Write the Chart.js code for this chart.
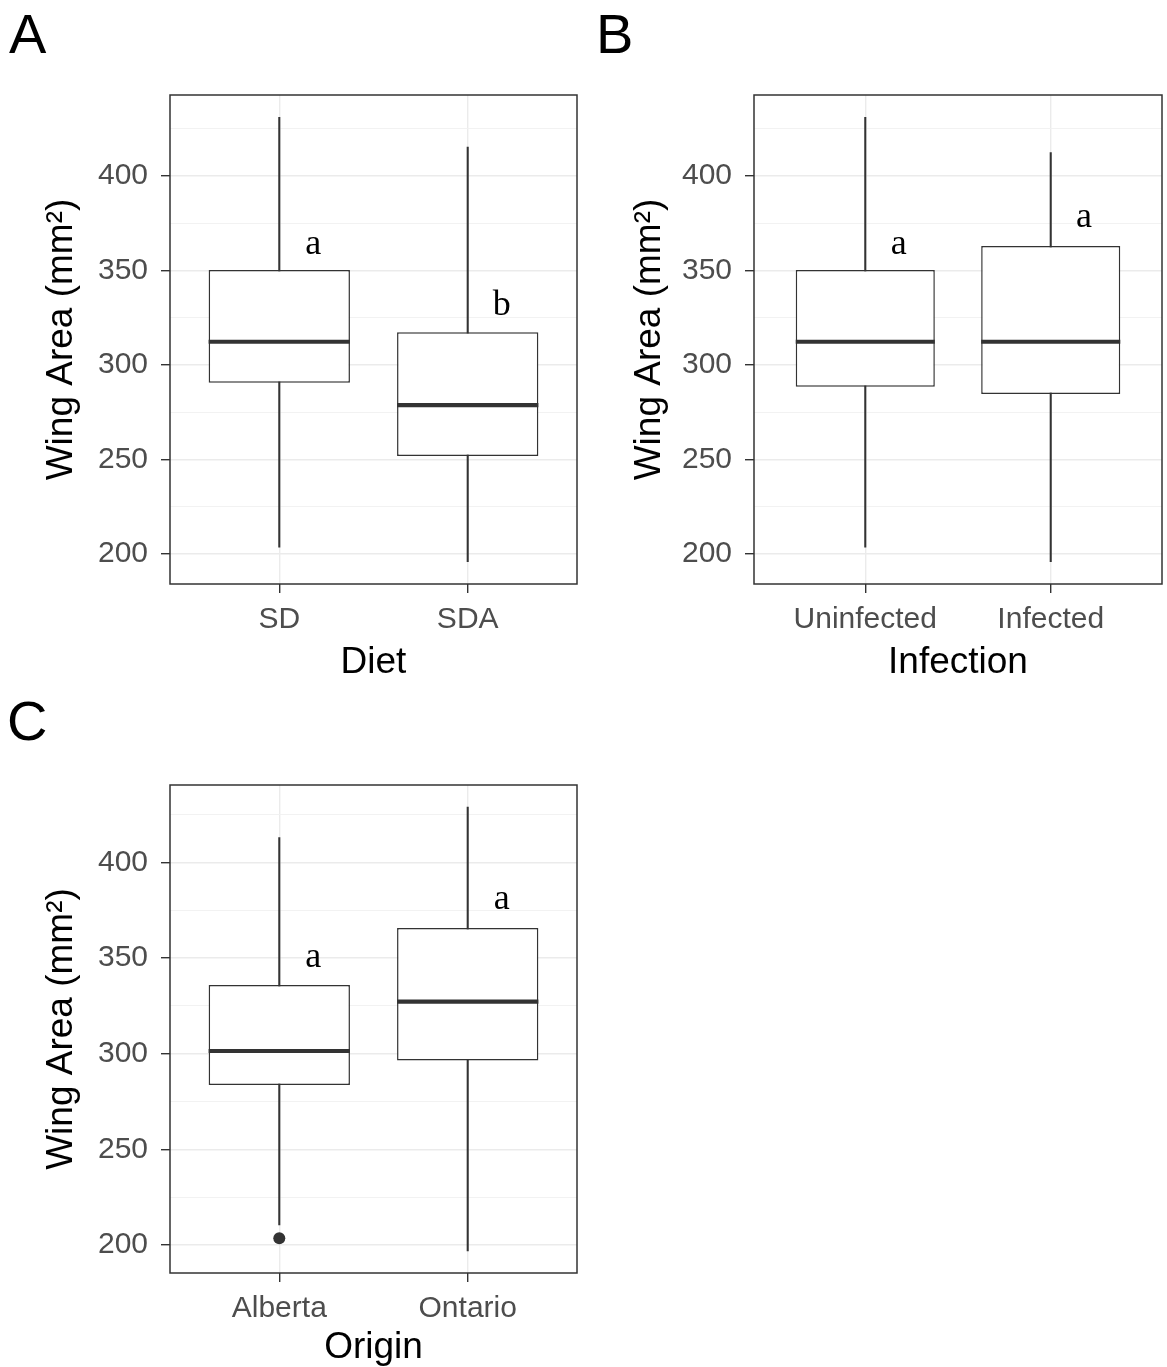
<!DOCTYPE html>
<html>
<head>
<meta charset="utf-8">
<script src="https://cdn.jsdelivr.net/npm/chart.js@4.4.1/dist/chart.umd.min.js"></script>
<style>
  html, body { margin: 0; padding: 0; background: #ffffff; }
  #figure { position: relative; width: 1167px; height: 1367px; overflow: hidden; background: #ffffff; }
  #figure canvas { position: absolute; }
</style>
</head>
<body>
<div id="figure">
  <canvas id="panelA" width="590" height="690" style="left:0px; top:0px;"></canvas>
  <canvas id="panelB" width="583" height="690" style="left:584px; top:0px;"></canvas>
  <canvas id="panelC" width="590" height="677" style="left:0px; top:690px;"></canvas>
</div>
<script>
// Wing area (mm²): whisker ends, quartiles and median for each group

// A — Diet
const dietGroups = ['SD', 'SDA'];
const dietLow    = [203.5, 195.8];
const dietQ1     = [290.6, 251.8];
const dietMedian = [312.3, 278.7];
const dietQ3     = [350.3, 317.3];
const dietHigh   = [431.2, 415.4];
const dietLetters = ['a', 'b'];
const dietLetterY = [358.9, 326.7];

// B — Infection
const infectionGroups = ['Uninfected', 'Infected'];
const infectionLow    = [203.5, 195.8];
const infectionQ1     = [288.5, 284.6];
const infectionMedian = [312.3, 312.3];
const infectionQ3     = [350.3, 363.0];
const infectionHigh   = [431.2, 412.5];
const infectionLetters = ['a', 'a'];
const infectionLetterY = [358.9, 372.9];

// C — Origin
const originGroups = ['Alberta', 'Ontario'];
const originLow    = [210.5, 197.0];
const originQ1     = [283.7, 296.4];
const originMedian = [301.4, 327.2];
const originQ3     = [335.9, 365.7];
const originHigh   = [412.9, 428.8];
const originLetters = ['a', 'a'];
const originLetterY = [345.4, 375.8];
const originOutlierGroup = [0];
const originOutlierValue = [203.6];

// y axis breaks (labelled) and the minor grid between them
const yTickValues  = [200, 250, 300, 350, 400];
const yMinorValues = [225, 275, 325, 375, 425];

const yTitle = 'Wing Area (mm²)';

const SANS  = "'Liberation Sans', Arial, Helvetica, sans-serif";
const SERIF = "'Liberation Serif', 'Times New Roman', serif";
const INK   = '#333333';
const GRID  = '#EBEBEB';
const TICK_TEXT = '#4D4D4D';
const LETTER_NUDGE = 0.18;   // significance letters sit just right of each box

function makeDecor(p) {
  return {
    id: 'panelDecor',
    afterDatasetsDraw(chart) {
      const { ctx, chartArea: a, scales: { x, y } } = chart;
      const boxes = chart.getDatasetMeta(0).data;
      ctx.save();
      ctx.beginPath();
      ctx.rect(a.left, a.top, a.right - a.left, a.bottom - a.top);
      ctx.clip();
      // medians across each box
      ctx.strokeStyle = INK;
      ctx.lineWidth = 4.2;
      ctx.lineCap = 'butt';
      boxes.forEach((bar, i) => {
        const { x: bx, width } = bar.getProps(['x', 'width'], true);
        const my = y.getPixelForValue(p.median[i]);
        ctx.beginPath();
        ctx.moveTo(bx - width / 2, my);
        ctx.lineTo(bx + width / 2, my);
        ctx.stroke();
      });
      // compact-letter display
      ctx.fillStyle = '#000000';
      ctx.font = '36px ' + SERIF;
      ctx.textAlign = 'center';
      ctx.textBaseline = 'alphabetic';
      p.letters.forEach((t, i) => {
        ctx.fillText(t, x.getPixelForValue(i + 1 + LETTER_NUDGE), y.getPixelForValue(p.letterY[i]));
      });
      ctx.restore();

      // panel frame
      ctx.save();
      ctx.strokeStyle = INK;
      ctx.lineWidth = 1.5;
      ctx.strokeRect(a.left, a.top, a.right - a.left, a.bottom - a.top);
      // panel tag
      ctx.fillStyle = '#000000';
      ctx.font = '56px ' + SANS;
      ctx.textAlign = 'left';
      ctx.textBaseline = 'alphabetic';
      ctx.fillText(p.tag, p.tagX, p.tagY);
      ctx.restore();
    }
  };
}

function buildPanel(canvasId, p) {
  const datasets = [
    {
      type: 'bar',
      label: 'box',
      data: p.groups.map((g, i) => ({ x: i + 1, y: [p.q1[i], p.q3[i]] })),
      backgroundColor: '#ffffff',
      borderColor: INK,
      borderWidth: 1.5,
      borderSkipped: false,
      barPercentage: 0.75,
      categoryPercentage: 1,
      grouped: false,
      order: 1
    },
    {
      type: 'bar',
      label: 'whisker',
      data: p.groups.map((g, i) => ({ x: i + 1, y: [p.low[i], p.high[i]] })),
      backgroundColor: INK,
      borderWidth: 0,
      barPercentage: 1,
      categoryPercentage: 1,
      maxBarThickness: 1.4,
      grouped: false,
      order: 2
    }
  ];
  if (p.outGroup && p.outGroup.length) {
    datasets.push({
      type: 'scatter',
      label: 'outlier',
      data: p.outGroup.map((g, i) => ({ x: g + 1, y: p.outValue[i] })),
      backgroundColor: INK,
      borderWidth: 0,
      pointRadius: 6,
      order: 0
    });
  }

  const values = p.low.concat(p.high, p.outValue || []);
  const lo = Math.min(...values), hi = Math.max(...values);
  const pad = (hi - lo) * 0.05;
  const gridValues = yTickValues.concat(yMinorValues).sort((a, b) => a - b);
  const isMajor = v => yTickValues.includes(v);

  return new Chart(document.getElementById(canvasId), {
    type: 'bar',
    data: { datasets },
    options: {
      responsive: false,
      animation: false,
      events: [],
      layout: { padding: { top: 95, right: p.rightPad, left: 0, bottom: 0 } },
      plugins: { legend: { display: false }, tooltip: { enabled: false } },
      scales: {
        x: {
          type: 'linear',
          min: 1 - p.xExpand,
          max: p.groups.length + p.xExpand,
          offset: false,
          afterBuildTicks: ax => { ax.ticks = p.groups.map((g, i) => ({ value: i + 1 })); },
          afterFit: ax => { ax.height = p.xAxisHeight; },
          ticks: {
            autoSkip: false, maxRotation: 0, minRotation: 0, padding: 9,
            color: TICK_TEXT,
            font: { family: SANS, size: 30, lineHeight: 1.2 },
            callback: v => p.groups[Math.round(v) - 1]
          },
          grid: { color: GRID, lineWidth: 1.4, tickLength: 9, tickColor: INK, tickWidth: 1.4, offset: false },
          border: { display: false },
          title: {
            display: true, text: p.xTitle, color: '#000000',
            font: { family: SANS, size: 37, lineHeight: 1.2 },
            padding: { top: 0, bottom: p.xTitlePad }
          }
        },
        y: {
          type: 'linear',
          min: lo - pad,
          max: hi + pad,
          afterBuildTicks: ax => { ax.ticks = gridValues.map(v => ({ value: v })); },
          afterFit: ax => { ax.width = 170; },
          ticks: {
            autoSkip: false, padding: 13,
            color: TICK_TEXT,
            font: { family: SANS, size: 30, lineHeight: 1.2 },
            callback: v => isMajor(v) ? String(v) : ''
          },
          grid: {
            color: c => isMajor(c.tick.value) ? GRID : '#F1F1F1',
            lineWidth: c => isMajor(c.tick.value) ? 1.4 : 0.9,
            tickLength: 9,
            tickColor: c => isMajor(c.tick.value) ? INK : 'rgba(0,0,0,0)',
            tickWidth: 1.4
          },
          border: { display: false },
          title: {
            display: true, text: yTitle, color: '#000000',
            font: { family: SANS, size: 37, lineHeight: 1.2 },
            padding: { top: p.yTitlePad, bottom: 0 }
          }
        }
      }
    },
    plugins: [makeDecor(p)]
  });
}

buildPanel('panelA', {
  groups: dietGroups, low: dietLow, q1: dietQ1, median: dietMedian, q3: dietQ3, high: dietHigh,
  letters: dietLetters, letterY: dietLetterY,
  xTitle: 'Diet', tag: 'A', tagX: 9, tagY: 53,
  rightPad: 13, xAxisHeight: 106, xTitlePad: 5, yTitlePad: 40, xExpand: 0.58
});

buildPanel('panelB', {
  groups: infectionGroups, low: infectionLow, q1: infectionQ1, median: infectionMedian, q3: infectionQ3, high: infectionHigh,
  letters: infectionLetters, letterY: infectionLetterY,
  xTitle: 'Infection', tag: 'B', tagX: 12, tagY: 53,
  rightPad: 5, xAxisHeight: 106, xTitlePad: 5, yTitlePad: 44, xExpand: 0.6
});

buildPanel('panelC', {
  groups: originGroups, low: originLow, q1: originQ1, median: originMedian, q3: originQ3, high: originHigh,
  letters: originLetters, letterY: originLetterY,
  outGroup: originOutlierGroup, outValue: originOutlierValue,
  xTitle: 'Origin', tag: 'C', tagX: 7, tagY: 50,
  rightPad: 13, xAxisHeight: 94, xTitlePad: -3, yTitlePad: 40, xExpand: 0.58
});
</script>
</body>
</html>
